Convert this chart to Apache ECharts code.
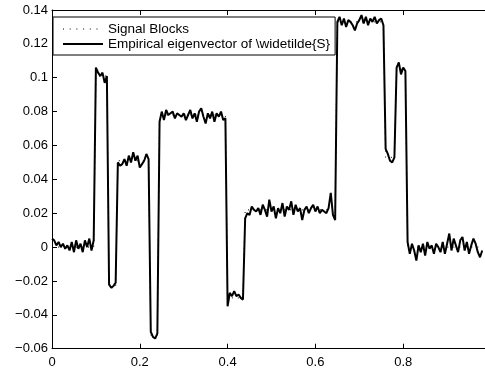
<!DOCTYPE html>
<html><head><meta charset="utf-8">
<script src="https://cdn.jsdelivr.net/npm/echarts@6/dist/echarts.min.js"></script>
<style>html,body{margin:0;padding:0;background:#fff}#c{width:485px;height:368px}</style>
</head><body><div id="c"></div>
<script>
// sample grid
const xStep = 0.005;
const xTicks = [0, 0.2, 0.4, 0.6, 0.8];
const yTicks = [-0.06, -0.04, -0.02, 0, 0.02, 0.04, 0.06, 0.08, 0.1, 0.12, 0.14];
// piecewise-constant signal blocks
const blockStarts = [0, 0.1, 0.13, 0.15, 0.225, 0.245, 0.4, 0.44, 0.65, 0.76, 0.785, 0.81];
const blockLevels = [0, 0.101, -0.024, 0.051, -0.052, 0.078, -0.030, 0.022, 0.133, 0.053, 0.105, 0];
// empirical eigenvector samples
const eigenvector = [
  // 0 .. 0.095
  0.005, 0.004, 0.001, 0.003, 0.000, 0.002, -0.001, 0.001, -0.002, 0.003,
  -0.003, 0.004, -0.001, 0.002, -0.003, 0.004, 0.000, 0.005, -0.002, 0.004,
  // 0.1 .. 0.125
  0.106, 0.103, 0.101, 0.103, 0.097, 0.101,
  // 0.13 .. 0.145
  -0.022, -0.024, -0.023, -0.021,
  // 0.15 .. 0.22
  0.050, 0.048, 0.049, 0.052, 0.048, 0.054, 0.050, 0.056, 0.051, 0.054,
  0.047, 0.049, 0.051, 0.055, 0.052,
  // 0.225 .. 0.24
  -0.050, -0.053, -0.054, -0.051,
  // 0.245 .. 0.395
  0.074, 0.080, 0.075, 0.081, 0.078, 0.079, 0.080, 0.076, 0.079, 0.078,
  0.077, 0.079, 0.075, 0.078, 0.081, 0.076, 0.079, 0.074, 0.080, 0.082,
  0.077, 0.073, 0.079, 0.076, 0.080, 0.074, 0.079, 0.077, 0.080, 0.075, 0.076,
  // 0.4 .. 0.435
  -0.035, -0.027, -0.029, -0.026, -0.029, -0.028, -0.030, -0.031,
  // 0.44 .. 0.645
  0.017, 0.020, 0.019, 0.024, 0.022, 0.021, 0.023, 0.019, 0.025, 0.022,
  0.018, 0.028, 0.021, 0.024, 0.017, 0.023, 0.020, 0.026, 0.018, 0.024,
  0.022, 0.027, 0.019, 0.025, 0.021, 0.023, 0.016, 0.022, 0.024, 0.020,
  0.023, 0.025, 0.021, 0.024, 0.020, 0.022, 0.021, 0.020, 0.023, 0.032,
  0.019, 0.016,
  // 0.65 .. 0.755
  0.133, 0.136, 0.131, 0.135, 0.130, 0.134, 0.133, 0.131, 0.128, 0.132,
  0.134, 0.137, 0.132, 0.136, 0.131, 0.135, 0.133, 0.136, 0.132, 0.134,
  0.135, 0.131,
  // 0.76 .. 0.78
  0.058, 0.055, 0.051, 0.050, 0.053,
  // 0.785 .. 0.805
  0.106, 0.109, 0.102, 0.106, 0.104,
  // 0.81 .. 0.98
  0.003, -0.004, 0.002, -0.002, -0.008, 0.001, -0.003, 0.002, -0.005, 0.003,
  -0.001, 0.001, -0.004, 0.002, 0.000, -0.003, 0.003, -0.004, 0.002, 0.008,
  -0.002, 0.005, 0.001, -0.003, 0.004, 0.006, -0.002, 0.003, -0.004, 0.001,
  0.005, 0.002, -0.003, -0.006, -0.002
];
const seriesNames = ['Signal Blocks', 'Empirical eigenvector of \\widetilde{S}'];

function levelAt(x) {
  let lv = blockLevels[0];
  for (let k = 0; k < blockStarts.length; k++) if (x >= blockStarts[k] - 1e-9) lv = blockLevels[k];
  return lv;
}
const xs = eigenvector.map((_, i) => +(i * xStep).toFixed(4));
const eigData = eigenvector.map((v, i) => [xs[i], v]);
const sigData = xs.map(x => [x, levelAt(x)]);

const FONT = 'Liberation Sans, Arial, Helvetica, sans-serif';
function fmt(v) {
  const r = Math.round(v * 100) / 100;
  if (Math.abs(r) < 1e-9) return '0';
  return String(r).replace('-', '\u2212');
}
const axisCommon = {
  axisLine: { show: true, onZero: false, lineStyle: { color: '#000', width: 1 } },
  axisTick: { show: true, inside: true, length: 5, lineStyle: { color: '#000', width: 1 } },
  splitLine: { show: false },
  minorTick: { show: false }
};
const chart = echarts.init(document.getElementById('c'), null, { renderer: 'canvas' });
chart.setOption({
  animation: false,
  backgroundColor: '#fff',
  textStyle: { fontFamily: FONT },
  grid: { left: 52, top: 10, right: -6, bottom: 19.3, containLabel: false, outerBoundsMode: 'none' },
  legend: {
    left: 53, top: 17, orient: 'vertical',
    padding: [5, 5, 4, 9], itemGap: 1, itemWidth: 40, itemHeight: 14,
    borderColor: '#000', borderWidth: 1, backgroundColor: '#fff',
    itemStyle: { opacity: 0 },
    textStyle: { fontSize: 13.5, color: '#000', fontFamily: FONT },
    data: [
      { name: seriesNames[0], lineStyle: { type: [1, 5.7], width: 1, color: '#000' } },
      { name: seriesNames[1], lineStyle: { width: 2, color: '#000' } }
    ]
  },
  xAxis: [
    Object.assign({ type: 'value', position: 'bottom', min: 0, max: 1, interval: 0.2,
      axisLabel: { margin: 7, fontSize: 13, color: '#000', fontFamily: FONT,
        formatter: v => (v > 0.99 ? '' : fmt(v)) } }, axisCommon),
    Object.assign({ type: 'value', position: 'top', min: 0, max: 1, interval: 0.2,
      axisLabel: { show: false } }, axisCommon)
  ],
  yAxis: [
    Object.assign({ type: 'value', position: 'left', min: -0.06, max: 0.14, interval: 0.02,
      axisLabel: { margin: 4, fontSize: 13, color: '#000', fontFamily: FONT, formatter: fmt } }, axisCommon),
    Object.assign({ type: 'value', position: 'right', min: -0.06, max: 0.14, interval: 0.02,
      axisLabel: { show: false } }, axisCommon)
  ],
  series: [
    { name: seriesNames[0], type: 'line', data: sigData, symbol: 'none', z: 2,
      lineStyle: { color: '#000', width: 1, type: [1, 5] }, itemStyle: { color: '#000' } },
    { name: seriesNames[1], type: 'line', data: eigData, symbol: 'none', z: 3,
      lineStyle: { color: '#000', width: 2 }, itemStyle: { color: '#000' } }
  ]
});
</script>
</body></html>
